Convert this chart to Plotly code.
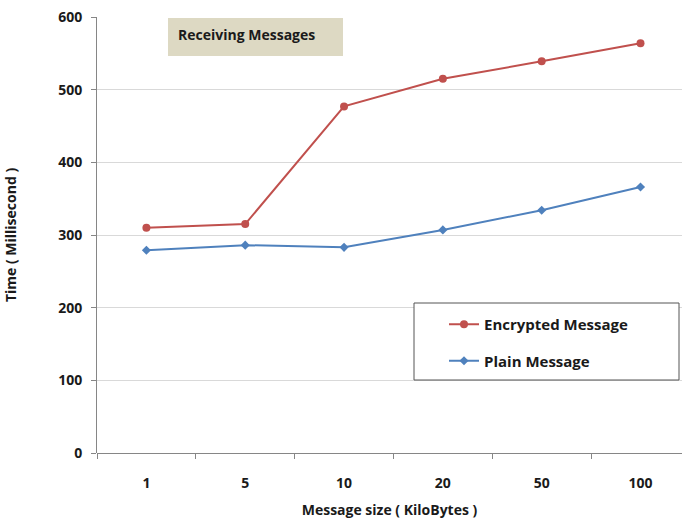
import plotly.graph_objects as go

# Message sizes (KB) and receive times (ms)
sizes = ["1", "5", "10", "20", "50", "100"]
encrypted_ms = [310, 315, 477, 515, 539, 564]
plain_ms = [279, 286, 283, 307, 334, 366]

FONT = "Open Sans"
L, R, T, B = 97, 0, 17, 69
W, H = 682, 522
pw, ph = W - L - R, H - T - B


def px_x(x):
    return (x - L) / pw


def px_y(y):
    return (H - B - y) / ph


fig = go.Figure()
fig.add_trace(go.Scatter(
    x=sizes, y=encrypted_ms, name="<b>Encrypted Message</b>", mode="lines+markers",
    legendgroup="enc",
    line=dict(color="#c0504d", width=2),
    marker=dict(symbol="circle", size=8, color="#c0504d"),
))
fig.add_trace(go.Scatter(
    x=sizes, y=plain_ms, name="<b>Plain Message</b>", mode="lines+markers",
    legendgroup="plain",
    line=dict(color="#4f81bd", width=2),
    marker=dict(symbol="diamond", size=7, color="#4f81bd"),
))

# title box
fig.add_shape(type="rect", xref="paper", yref="paper",
              x0=px_x(168), x1=px_x(343), y0=px_y(56), y1=px_y(18),
              fillcolor="#ddd9c3", line=dict(width=0), layer="below")
fig.add_annotation(xref="paper", yref="paper", x=px_x(176), y=px_y(35),
                   xanchor="left", yanchor="middle", showarrow=False,
                   text="<b>Receiving Messages</b>",
                   font=dict(family=FONT, size=14, color="#1a1a1a"))

# legend frame
fig.add_shape(type="rect", xref="paper", yref="paper",
              x0=px_x(414), x1=px_x(679), y0=px_y(380), y1=px_y(303),
              fillcolor="white", line=dict(color="#555555", width=1))

fig.update_layout(
    width=W, height=H,
    margin=dict(l=L, r=R, t=T, b=B),
    paper_bgcolor="white", plot_bgcolor="white",
    font=dict(family=FONT, size=14, color="#1a1a1a"),
    showlegend=True,
    legend=dict(x=px_x(444), y=px_y(308), xanchor="left", yanchor="top",
                bgcolor="rgba(0,0,0,0)", borderwidth=0,
                font=dict(family=FONT, size=15, color="#1a1a1a"),
                tracegroupgap=14, itemwidth=30),
    xaxis=dict(
        type="category", range=[-0.5, 5.42],
        tickson="boundaries", ticks="outside", ticklen=5, tickcolor="#868686",
        showline=False, showgrid=False, zeroline=False,
        tickfont=dict(family=FONT, size=14, color="#1a1a1a"),
        title=dict(text="<b>Message size ( KiloBytes )</b>", standoff=14,
                   font=dict(family=FONT, size=14, color="#1a1a1a")),
        ticklabelstandoff=20,
    ),
    yaxis=dict(
        range=[0, 600], dtick=100, ticks="outside", ticklen=5,
        tickcolor="#868686", showline=True, linecolor="#868686",
        gridcolor="#d9d9d9", zeroline=True, zerolinecolor="#868686",
        zerolinewidth=1,
        tickfont=dict(family=FONT, size=14, color="#1a1a1a"),
        title=dict(text="<b>Time ( Millisecond )</b>", standoff=38,
                   font=dict(family=FONT, size=14, color="#1a1a1a")),
        ticklabelstandoff=6,
    ),
)
fig.update_xaxes(tickprefix="<b>", ticksuffix="</b>")
fig.update_yaxes(tickprefix="<b>", ticksuffix="</b>")

fig.write_html("out.html")
